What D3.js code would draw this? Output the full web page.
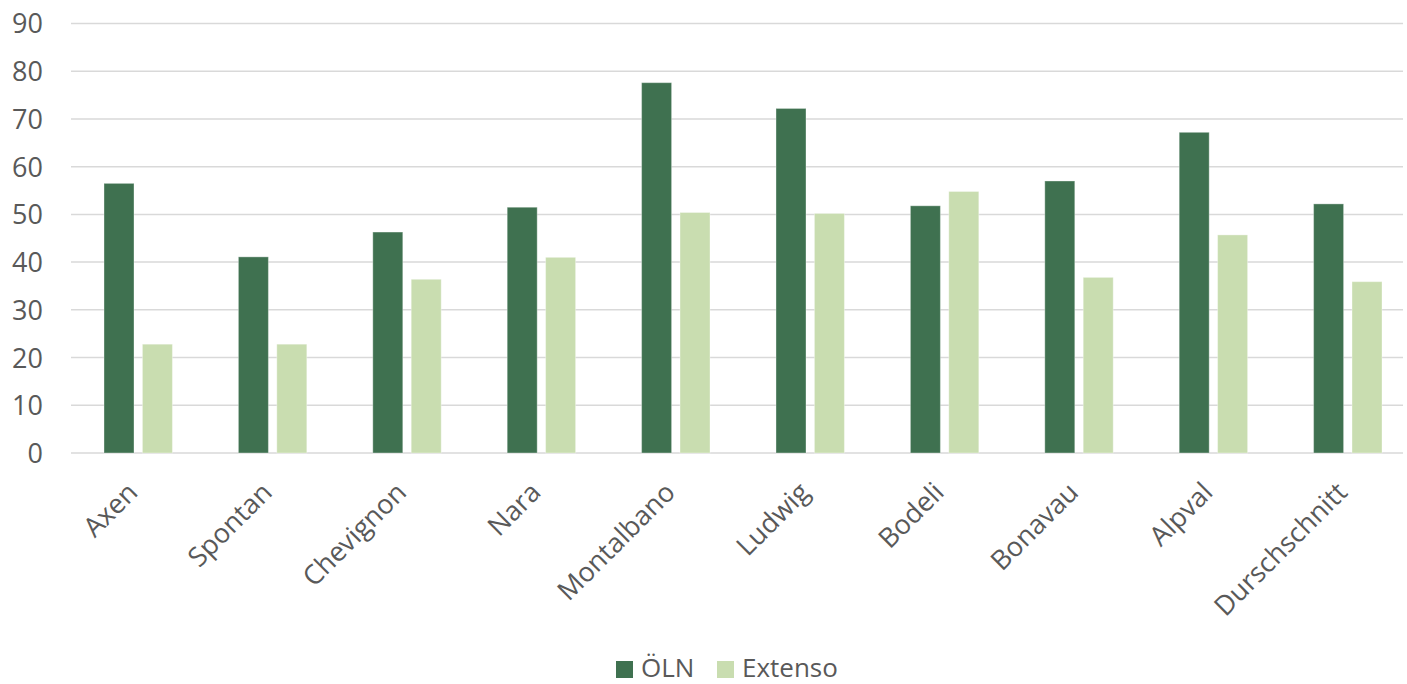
<!DOCTYPE html>
<html><head><meta charset="utf-8">
<script src="https://cdn.jsdelivr.net/npm/d3@7"></script>
<style>body{margin:0;background:#fff}svg{display:block}text{font-family:"Open Sans",sans-serif;fill:#595959}</style>
</head><body>
<svg id="c" width="1407" height="684"></svg>
<script>
const categories = ["Axen","Spontan","Chevignon","Nara","Montalbano","Ludwig","Bodeli","Bonavau","Alpval","Durschschnitt"];
const seriesNames = ["ÖLN","Extenso"];
const oln = [56.5,41.1,46.3,51.5,77.6,72.2,51.8,57.0,67.2,52.2];
const extenso = [22.8,22.8,36.4,41.0,50.4,50.2,54.8,36.8,45.7,35.9];
const yTicks = [0,10,20,30,40,50,60,70,80,90];
const colors = ["#3f7150","#c9ddb0"];

const svg = d3.select("#c");
const L = 71, R = 1403, B = 453, T = 23.5;
const x0 = d3.scaleBand().domain(categories).range([71,1415]).padding(0);
const bw = x0.bandwidth();
const x1 = d3.scaleBand().domain(seriesNames).range([bw*0.2455, bw*0.7545]).paddingInner(0.219).paddingOuter(0);
const y = d3.scaleLinear().domain([0,90]).range([B,T]);
const color = d3.scaleOrdinal().domain(seriesNames).range(colors);

// grid
svg.append("g").selectAll("line").data(yTicks).join("line")
  .attr("x1",L).attr("x2",R).attr("y1",d=>y(d)).attr("y2",d=>y(d))
  .attr("stroke","#d9d9d9").attr("stroke-width",1.5);

// y labels
const yAxis = d3.axisLeft(y).tickValues(yTicks).tickSize(0).tickPadding(0);
const ya = svg.append("g").attr("transform","translate(43,0)").call(yAxis);
ya.select(".domain").remove();
ya.selectAll("text").attr("font-size",27).attr("fill","#595959").attr("dy","0.35em").style("font-family","Open Sans");

// bars
const data = categories.map((c,i)=>({c, vals:[{s:"ÖLN",v:oln[i]},{s:"Extenso",v:extenso[i]}]}));
svg.append("g").selectAll("g").data(data).join("g")
  .attr("transform",d=>`translate(${x0(d.c)},0)`)
  .selectAll("rect").data(d=>d.vals).join("rect")
  .attr("x",d=>x1(d.s)).attr("width",x1.bandwidth())
  .attr("y",d=>y(d.v)).attr("height",d=>y(0)-y(d.v))
  .attr("fill",d=>color(d.s)).attr("stroke","rgba(255,255,255,0.35)").attr("stroke-width",1);

// x labels
const xAxis = d3.axisBottom(x0).tickSize(0).tickPadding(0);
const xa = svg.append("g").attr("transform",`translate(0,${B})`).call(xAxis);
xa.select(".domain").remove();
xa.selectAll(".tick text")
  .attr("font-size",27).attr("fill","#595959").style("font-family","Open Sans")
  .attr("text-anchor","end").attr("dy",null).attr("y",null)
  .attr("transform","translate(1,41) rotate(-45)");

// legend
const lg = svg.append("g");
const lx = [616,717];
seriesNames.forEach((s,i)=>{
  lg.append("rect").attr("x",lx[i]).attr("y",661).attr("width",17).attr("height",17).attr("fill",color(s));
  lg.append("text").attr("x",lx[i]+25).attr("y",677).attr("font-size",26).text(s);
});
</script>
</body></html>
